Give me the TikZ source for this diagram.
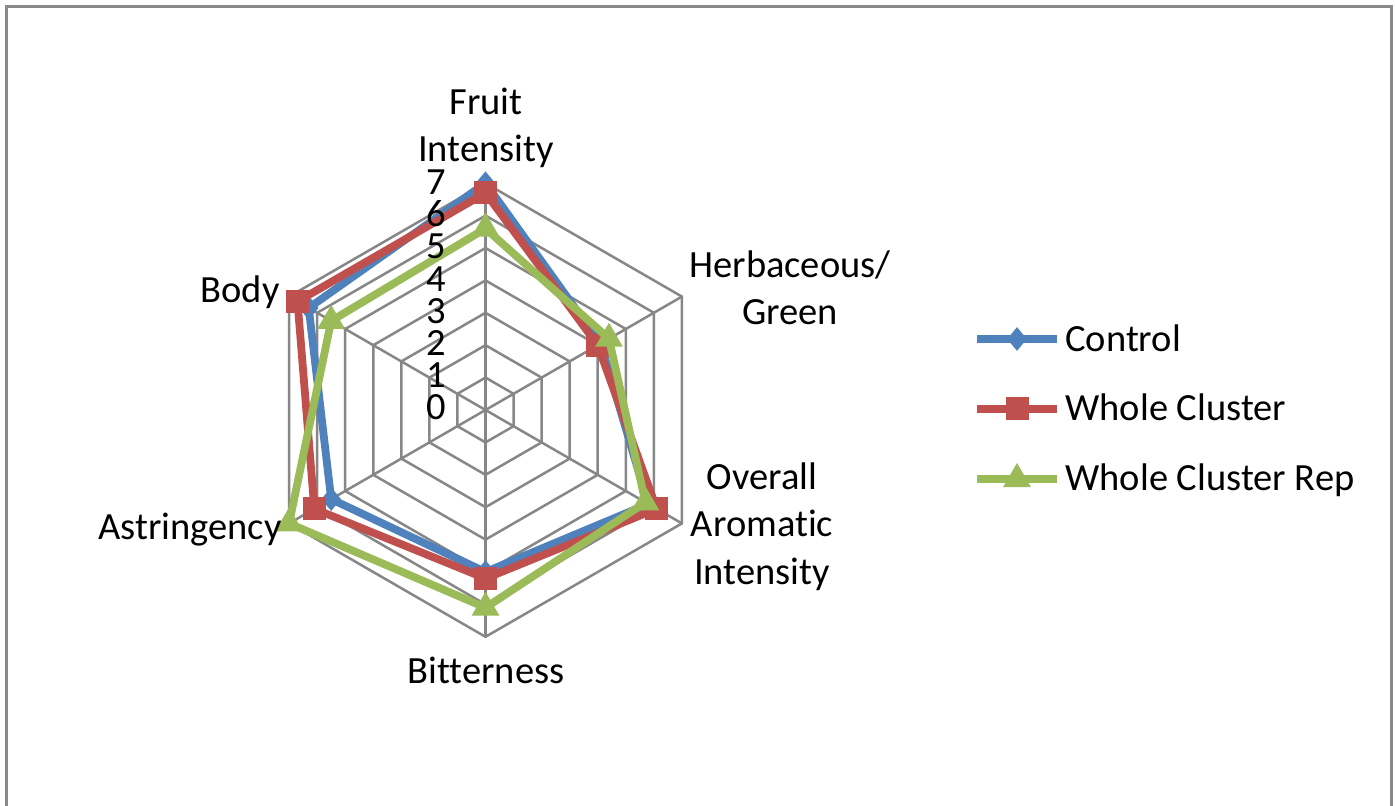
\documentclass[tikz,border=0pt]{standalone}
\usepackage{fontspec}
\setmainfont[Ligatures=NoCommon]{Carlito}
\usetikzlibrary{shapes.geometric}
\definecolor{cblue}{HTML}{4F81BD}
\definecolor{cred}{HTML}{C0504D}
\definecolor{cgreen}{HTML}{9BBB59}
\definecolor{gridgray}{HTML}{878787}
\definecolor{framegray}{HTML}{898989}
\tikzset{
  gridline/.style={draw=gridgray, line width=1.25pt},
  ser/.style={line width=3.9pt, line join=miter},
  lbl/.style={font=\fontsize{19.25}{23.75}\selectfont, inner sep=0pt, align=center, anchor=base},
  mdiamond/.style={diamond, fill=cblue, inner sep=0pt, minimum width=10pt, minimum height=12pt},
  msquare/.style={rectangle, fill=cred, inner sep=0pt, minimum size=11.5pt},
  mtri/.style={regular polygon, regular polygon sides=3, fill=cgreen, inner sep=0pt, minimum size=16pt},
}
\begin{document}
\begin{tikzpicture}[x=0.5pt, y=-0.5pt]
\useasboundingbox (0,0) rectangle (1395,806);
\fill[white] (0,0) rectangle (1395,806);
% frame
\coordinate (f1) at (6.5,840);
\coordinate (f2) at (6.5,6.5);
\coordinate (f3) at (1391.5,6.5);
\coordinate (f4) at (1391.5,840);
\draw[framegray, line width=1.5pt] (f1) -- (f2) -- (f3) -- (f4);
\def\u{32.4}
\begin{scope}[shift={(485.5,410)}, yscale=-1]
  % grid
  \foreach \k in {1,...,7}
    \draw[gridline] (90:\k*\u) -- (30:\k*\u) -- (-30:\k*\u) -- (-90:\k*\u) -- (-150:\k*\u) -- (150:\k*\u) -- cycle;
  \coordinate (ctr) at (0,0);
  \foreach \a [count=\i] in {90,30,-30,-90,-150,150}
    \coordinate (ax\i) at (\a:7*\u);
  \foreach \i in {1,...,6}
    \draw[gridline] (ctr) -- (ax\i);
  % data points
  \foreach \v [count=\i] in {7.0,4.1,5.8,5.0,5.5,6.3}
    \coordinate (b\i) at ({150-60*\i}:\v*\u);
  \foreach \v [count=\i] in {6.7,4.0,6.1,5.2,6.1,6.7}
    \coordinate (r\i) at ({150-60*\i}:\v*\u);
  \foreach \v [count=\i] in {5.6,4.4,5.7,6.1,7.0,5.5}
    \coordinate (g\i) at ({150-60*\i}:\v*\u);
  % series
  \draw[cblue, ser] (b1) -- (b2) -- (b3) -- (b4) -- (b5) -- (b6) -- cycle;
  \foreach \i in {1,...,6} \node[mdiamond] (bm\i) at (b\i) {};
  \draw[cred, ser] (r1) -- (r2) -- (r3) -- (r4) -- (r5) -- (r6) -- cycle;
  \foreach \i in {1,...,6} \node[msquare] (rm\i) at (r\i) {};
  \draw[cgreen, ser] (g1) -- (g2) -- (g3) -- (g4) -- (g5) -- (g6) -- cycle;
  \foreach \i in {1,...,6} \node[mtri] (gm\i) at (g\i) {};
\end{scope}
% tick labels
\foreach \k in {0,...,7}
  \node[lbl, anchor=base east] (t\k) at (446,{420-\k*32.2}) {\k};
% category labels (base = baseline of last line)
\node[lbl] (fruit) at (486,162) {Fruit\\Intensity};
\node[lbl] (herb) at (790,325) {Herbaceous/\\Green};
\node[lbl] (arom) at (762,584) {Overall\\Aromatic\\Intensity};
\node[lbl] (bitter) at (486,683) {Bitterness};
\node[lbl, anchor=base east] (astr) at (282,539) {Astringency};
\node[lbl] (body) at (240,303) {Body};
% legend
\coordinate (l1a) at (977,339); \coordinate (l1b) at (1057,339);
\coordinate (l2a) at (977,409); \coordinate (l2b) at (1057,409);
\coordinate (l3a) at (977,479); \coordinate (l3b) at (1057,479);
\draw[cblue, ser] (l1a) -- (l1b);
\node[mdiamond] (lm1) at (1017,339) {};
\draw[cred, ser] (l2a) -- (l2b);
\node[msquare] (lm2) at (1017,409) {};
\draw[cgreen, ser] (l3a) -- (l3b);
\node[mtri] (lm3) at (1017,479) {};
\node[lbl, anchor=base west] (lt1) at (1065,352) {Control};
\node[lbl, anchor=base west] (lt2) at (1065,421) {Whole Cluster};
\node[lbl, anchor=base west] (lt3) at (1065,490) {Whole Cluster Rep};
\end{tikzpicture}
\end{document}
